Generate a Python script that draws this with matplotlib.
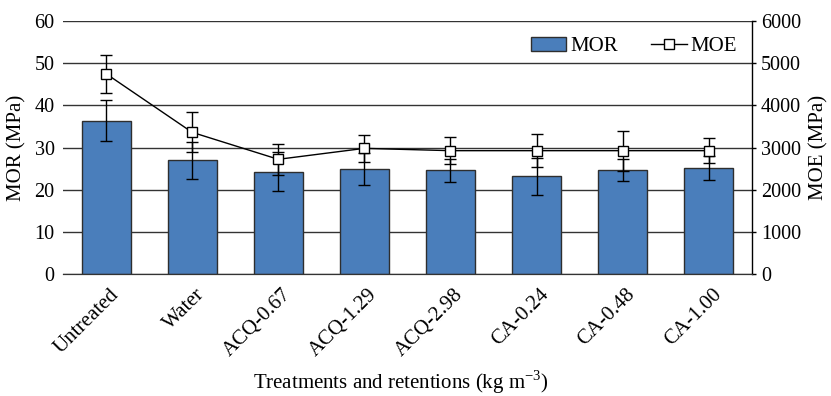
import numpy as np
import matplotlib.pyplot as plt
from matplotlib.transforms import ScaledTranslation

plt.rcParams['font.family'] = 'Liberation Serif'
plt.rcParams['mathtext.fontset'] = 'custom'
plt.rcParams['mathtext.rm'] = 'Liberation Serif'

treatments = ['Untreated', 'Water', 'ACQ-0.67', 'ACQ-1.29', 'ACQ-2.98',
              'CA-0.24', 'CA-0.48', 'CA-1.00']
mor = [36.4, 27.0, 24.3, 24.8, 24.6, 23.2, 24.6, 25.1]
mor_err = [4.9, 4.4, 4.7, 3.8, 2.7, 4.4, 2.6, 2.8]
moe = [4750, 3360, 2720, 2980, 2925, 2925, 2925, 2925]
moe_err = [446, 474, 370, 315, 316, 395, 474, 300]

bar_color = '#4a7ebb'
grid_color = '#333333'

fig = plt.figure(figsize=(8.31, 3.96), dpi=100)
ax = fig.add_axes([0.0758, 0.308, 0.829, 0.639])
ax2 = ax.twinx()

x = np.arange(len(treatments))

# MOR bars with error bars
ax.bar(x, mor, width=0.57, color=bar_color, edgecolor='#2e2e2e', linewidth=1.0,
       label='MOR', zorder=2)
ax.errorbar(x, mor, yerr=mor_err, fmt='none', ecolor='black', elinewidth=1.0,
            capsize=4, capthick=1.0, zorder=3)

# MOE line on the secondary axis
ax2.errorbar(x, moe, yerr=moe_err, fmt='none', ecolor='black', elinewidth=1.0,
             capsize=4, capthick=1.0, zorder=3)
ax2.plot(x, moe, color='black', linewidth=1.0, marker='s', markersize=7,
         markerfacecolor='white', markeredgecolor='black', markeredgewidth=1.0,
         label='MOE', zorder=4)

ax.set_xlim(-0.5, len(treatments) - 0.5)
ax.set_ylim(0, 60)
ax.set_yticks(np.arange(0, 61, 10))
ax2.set_ylim(0, 6000)
ax2.set_yticks(np.arange(0, 6001, 1000))

ax.yaxis.grid(True, color=grid_color, linewidth=1.0)
ax.set_axisbelow(True)

for a in (ax, ax2):
    for side in ('left', 'top', 'right'):
        a.spines[side].set_visible(False)
    a.spines['bottom'].set_color(grid_color)
ax2.spines['right'].set_visible(True)
ax2.spines['right'].set_color('black')
ax2.spines['right'].set_linewidth(1.0)

ax.tick_params(axis='y', length=0, pad=6, labelsize=14.5)
ax2.tick_params(axis='y', length=3, width=1.0, pad=3.5, labelsize=14.5, color='black')
ax.tick_params(axis='x', length=0, pad=8, labelsize=15)

ax.set_xticks(x)
ax.set_xticklabels(treatments, rotation=45, ha='right', rotation_mode='anchor')
offset = ScaledTranslation(3 / 100, 0, fig.dpi_scale_trans)
for lbl in ax.get_xticklabels():
    lbl.set_transform(lbl.get_transform() + offset)

ax.set_ylabel('MOR (MPa)', fontsize=15, labelpad=6)
ax2.set_ylabel('MOE (MPa)', fontsize=15, labelpad=6)
ax.set_xlabel(r'Treatments and retentions (kg m$^{\mathregular{-3}}$)', fontsize=15)
ax.xaxis.set_label_coords(0.49, -0.372)

h1, l1 = ax.get_legend_handles_labels()
h2, l2 = ax2.get_legend_handles_labels()
ax2.legend(h1 + h2, l1 + l2, loc='upper right', ncol=2, frameon=False,
           fontsize=15, handlelength=1.7, handletextpad=0.2, columnspacing=1.6,
           borderaxespad=0.3, bbox_to_anchor=(1.0, 0.995))

fig.savefig('out.png', dpi=100)
